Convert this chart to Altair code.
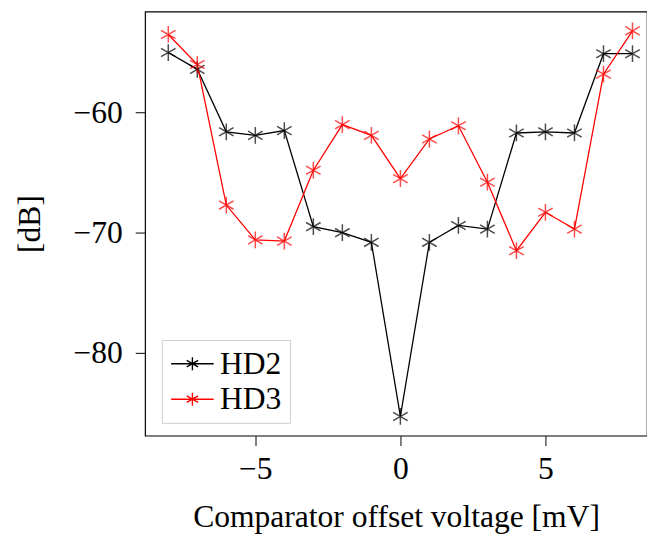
import altair as alt
import pandas as pd

x_vals = [-8, -7, -6, -5, -4, -3, -2, -1, 0, 1, 2, 3, 4, 5, 6, 7, 8]
hd2 = [-55.0, -56.4, -61.6, -61.9, -61.5, -69.5, -70.0, -70.8, -85.3,
       -70.8, -69.4, -69.7, -61.7, -61.6, -61.7, -55.1, -55.1]
hd3 = [-53.5, -56.0, -67.7, -70.6, -70.7, -64.8, -61.0, -61.9, -65.5,
       -62.2, -61.1, -65.8, -71.5, -68.3, -69.7, -56.8, -53.2]
series = ["HD2", "HD3"]
colors = ["#000000", "#ff0000"]
x_ticks = [-5, 0, 5]
y_ticks = [-80, -70, -60]

rows = []
for name, vals in zip(series, [hd2, hd3]):
    for xv, yv in zip(x_vals, vals):
        rows.append({"x": xv, "y": yv, "series": name})
df = pd.DataFrame(rows)

FONT = "Liberation Serif"
FS = 32
STAR = "M0,-1V1M-0.866,-0.5L0.866,0.5M-0.866,0.5L0.866,-0.5"
LEG = "M-1.8,0H1.8M0,-0.55V0.55M-0.48,-0.275L0.48,0.275M-0.48,0.275L0.48,-0.275"

xenc = alt.X("x:Q", scale=alt.Scale(domain=[-8.8, 8.5], nice=False, zero=False),
             axis=alt.Axis(values=x_ticks, title="Comparator offset voltage [mV]",
                           grid=False, tickSize=10, labelPadding=8, titlePadding=18,
                           domain=False))
yenc = alt.Y("y:Q", scale=alt.Scale(domain=[-86.9, -51.6], nice=False, zero=False),
             axis=alt.Axis(values=y_ticks, title="[dB]", grid=False, tickSize=10,
                           labelPadding=13, titlePadding=27, domain=False))
cenc = alt.Color("series:N", scale=alt.Scale(domain=series, range=colors),
                 legend=alt.Legend(title=None, orient="none", legendX=17, legendY=333,
                                   symbolType=LEG, symbolSize=576, symbolStrokeWidth=1.4,
                                   symbolFillColor="transparent", symbolOffset=7,
                                   labelFont=FONT, labelFontSize=FS, labelColor="#000",
                                   rowPadding=4, labelOffset=12,
                                   padding=8, strokeColor="#d0d0d0", fillColor="white"))

lines = alt.Chart(df).mark_line(strokeWidth=1.3).encode(x=xenc, y=yenc, color=cenc)
pts = alt.Chart(df).mark_point(shape=STAR, size=289, filled=False, strokeWidth=1.5).encode(
    x=xenc, y=yenc, color=alt.Color("series:N", scale=alt.Scale(domain=series, range=colors), legend=None))

chart = (lines + pts).properties(
    width=509, height=430,
    padding={"left": 5, "top": 0, "right": 0, "bottom": 0}
).configure_view(
    stroke="#000000", strokeWidth=1.2
).configure_axis(
    labelFont=FONT, titleFont=FONT, labelFontSize=FS, titleFontSize=FS,
    titleFontWeight="normal", labelColor="#000", titleColor="#000",
    tickColor="#000", tickWidth=1
)

chart.save("out.html", embed_options={"renderer": "svg", "actions": False})
